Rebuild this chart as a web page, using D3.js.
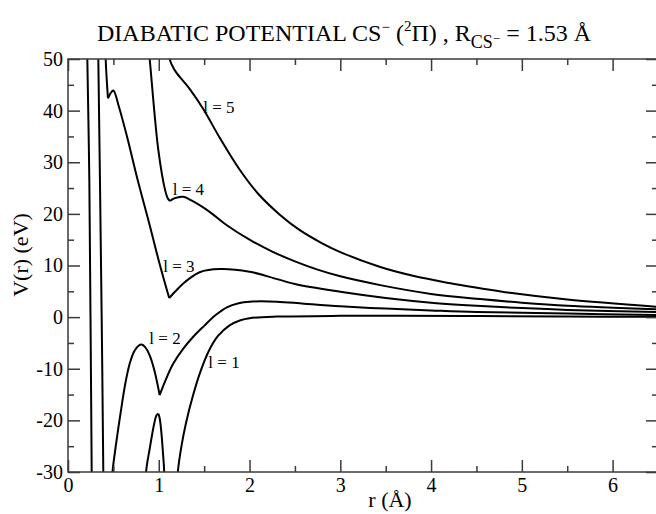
<!DOCTYPE html>
<html>
<head>
<meta charset="utf-8">
<script src="https://cdn.jsdelivr.net/npm/d3@7"></script>
<style>
  body { margin: 0; background: #fff; }
  text { font-family: "Liberation Serif", "Times New Roman", serif; fill: #000; }
</style>
</head>
<body>
<div id="chart"></div>
<script>
// axis setup
const xDomain = [0, 6.5];
const yDomain = [-30, 50];
const xTicks = [0, 1, 2, 3, 4, 5, 6];
const xMinorTicks = [0.5, 1.5, 2.5, 3.5, 4.5, 5.5, 6.5];
const yTicks = [-30, -20, -10, 0, 10, 20, 30, 40, 50];
const yMinorTicks = [-25, -15, -5, 5, 15, 25, 35, 45];

// potential curves, [r (Å), V (eV)]; each curve split into segments at cusps
const curveL1 = [
  [[0.205, 60], [0.213, 50], [0.235, 26.6], [0.248, 0], [0.261, -30], [0.266, -40]],
  [[0.845, -40], [0.86, -30], [0.90, -25.5], [0.95, -20.6], [0.975, -19.0], [0.995, -18.7]],
  [[0.995, -18.7], [1.01, -19.6], [1.03, -22.6], [1.045, -26], [1.06, -30], [1.07, -40]],
  [[1.195, -36], [1.21, -30], [1.25, -25], [1.30, -20.5], [1.38, -15.0], [1.46, -10.5], [1.55, -6.6],
   [1.65, -3.7], [1.78, -1.6], [1.9, -0.6], [2.0, -0.2], [2.3, 0.1], [3.0, 0.25], [3.66, 0.25],
   [4.54, 0.2], [5.5, 0.1], [6.5, 0.05]]
];
const curveL2 = [
  [[0.328, 60], [0.334, 50], [0.352, 26.6], [0.371, 0], [0.389, -30], [0.393, -40]],
  [[0.465, -36], [0.49, -30], [0.53, -24.5], [0.58, -18.5], [0.63, -13], [0.68, -9], [0.73, -6.6],
   [0.78, -5.5], [0.81, -5.3], [0.85, -5.8], [0.9, -7.4], [0.95, -10.2], [1.01, -15.1]],
  [[1.01, -15.1], [1.08, -12.0], [1.16, -9.0], [1.27, -6.1], [1.38, -3.8], [1.5, -1.7], [1.62, 0.3],
   [1.75, 1.9], [1.88, 2.7], [2.0, 3.0], [2.3, 3.0], [2.6, 2.6], [3.0, 2.1], [3.5, 1.65],
   [4.0, 1.3], [4.5, 1.0], [5.5, 0.7], [6.5, 0.4]]
];
const curveL3 = [
  [[0.405, 60], [0.415, 50], [0.44, 42.4]],
  [[0.44, 42.4], [0.47, 43.4], [0.50, 43.9], [0.56, 40.8], [0.65, 35.0], [0.77, 26.4],
   [0.90, 17.8], [1.005, 10.6], [1.115, 3.7]],
  [[1.115, 3.7], [1.2, 5.3], [1.27, 6.5], [1.34, 7.5], [1.45, 8.7], [1.67, 9.3], [2.0, 8.8],
   [2.2, 7.9], [2.5, 6.4], [3.0, 4.9], [3.5, 3.7], [4.0, 2.8], [4.5, 2.2], [5.0, 1.75],
   [5.5, 1.4], [6.5, 1.0]]
];
const curveL4 = [
  [[0.846, 60], [0.90, 50], [0.995, 32.4], [1.07, 24.6], [1.10, 23.0], [1.125, 22.5]],
  [[1.125, 22.5], [1.17, 23.0], [1.27, 23.3], [1.36, 22.6], [1.56, 20.4], [1.75, 17.8], [2.0, 15.0],
   [2.25, 12.7], [2.5, 10.8], [2.75, 9.2], [3.0, 7.9], [3.44, 6.2], [4.0, 4.5], [4.54, 3.5],
   [5.0, 2.8], [5.5, 2.2], [6.5, 1.5]]
];
const curveL5 = [
  [[1.115, 52], [1.12, 50], [1.16, 48.3], [1.2, 47.2], [1.34, 44.2], [1.49, 40.3], [1.67, 34.8],
   [1.89, 28.6], [2.1, 23.8], [2.33, 19.9], [2.55, 16.9], [2.8, 14.3], [3.0, 12.6], [3.44, 9.7],
   [3.8, 8.0], [4.2, 6.6], [4.54, 5.6], [4.87, 4.7], [5.5, 3.4], [6.5, 2.0]]
];
const curves = [curveL1, curveL2, curveL3, curveL4, curveL5];

// curve labels (anchor = left end of the baseline, in data units)
const labelNames = ['l = 1', 'l = 2', 'l = 3', 'l = 4', 'l = 5'];
const labelR = [1.546, 0.896, 1.05, 1.153, 1.49];
const labelV = [-9.9, -5.2, 8.7, 23.6, 39.5];

const width = 656, height = 514;
const margin = { top: 59, right: -2, bottom: 42, left: 68 };

const svg = d3.select('#chart').append('svg')
  .attr('width', width)
  .attr('height', height);

const x = d3.scaleLinear(xDomain, [margin.left, width - margin.right]);
const y = d3.scaleLinear(yDomain, [height - margin.bottom, margin.top]);

svg.append('clipPath').attr('id', 'plotclip')
  .append('rect')
  .attr('x', x(xDomain[0])).attr('y', y(yDomain[1]))
  .attr('width', x(xDomain[1]) - x(xDomain[0]))
  .attr('height', y(yDomain[0]) - y(yDomain[1]));

// curves
const line = d3.line()
  .x(d => x(d[0]))
  .y(d => y(d[1]))
  .curve(d3.curveCatmullRom.alpha(0.5));

const plot = svg.append('g').attr('clip-path', 'url(#plotclip)');
curves.forEach(segs => {
  plot.selectAll(null)
    .data(segs)
    .join('path')
    .attr('d', line)
    .attr('fill', 'none')
    .attr('stroke', '#000')
    .attr('stroke-width', 2)
    .attr('stroke-linejoin', 'round');
});

// frame
const frameColor = '#3a3a3a';
svg.append('rect')
  .attr('x', x(xDomain[0])).attr('y', y(yDomain[1]))
  .attr('width', x(xDomain[1]) - x(xDomain[0]))
  .attr('height', y(yDomain[0]) - y(yDomain[1]))
  .attr('fill', 'none')
  .attr('stroke', frameColor)
  .attr('stroke-width', 1.5);

// axes, ticks pointing inwards on all four sides
function styleAxis(g) {
  g.select('.domain').remove();
  g.selectAll('.tick line').attr('stroke', frameColor).attr('stroke-width', 1.5);
  g.selectAll('.tick text')
    .style('font-family', '"Liberation Serif", "Times New Roman", serif')
    .style('font-size', '20px')
    .attr('fill', '#000');
}
const plainFormat = d => String(d);

svg.append('g')
  .attr('transform', `translate(0, ${y(yDomain[0])})`)
  .call(d3.axisBottom(x).tickValues(xTicks).tickSize(-12).tickPadding(6).tickFormat(plainFormat))
  .call(styleAxis);
svg.append('g')
  .attr('transform', `translate(0, ${y(yDomain[0])})`)
  .call(d3.axisBottom(x).tickValues(xMinorTicks).tickSize(-6).tickFormat(''))
  .call(styleAxis);
svg.append('g')
  .attr('transform', `translate(0, ${y(yDomain[1])})`)
  .call(d3.axisTop(x).tickValues(xTicks).tickSize(-12).tickFormat(''))
  .call(styleAxis);
svg.append('g')
  .attr('transform', `translate(0, ${y(yDomain[1])})`)
  .call(d3.axisTop(x).tickValues(xMinorTicks).tickSize(-6).tickFormat(''))
  .call(styleAxis);

svg.append('g')
  .attr('transform', `translate(${x(xDomain[0])}, 0)`)
  .call(d3.axisLeft(y).tickValues(yTicks).tickSize(-12).tickPadding(5).tickFormat(plainFormat))
  .call(styleAxis);
svg.append('g')
  .attr('transform', `translate(${x(xDomain[0])}, 0)`)
  .call(d3.axisLeft(y).tickValues(yMinorTicks).tickSize(-6).tickFormat(''))
  .call(styleAxis);
svg.append('g')
  .attr('transform', `translate(${x(xDomain[1])}, 0)`)
  .call(d3.axisRight(y).tickValues(yTicks).tickSize(-12).tickFormat(''))
  .call(styleAxis);
svg.append('g')
  .attr('transform', `translate(${x(xDomain[1])}, 0)`)
  .call(d3.axisRight(y).tickValues(yMinorTicks).tickSize(-6).tickFormat(''))
  .call(styleAxis);

// curve labels
svg.selectAll('text.curve-label')
  .data(labelNames)
  .join('text')
  .classed('curve-label', true)
  .attr('x', (d, i) => x(labelR[i]))
  .attr('y', (d, i) => y(labelV[i]))
  .style('font-size', '17px')
  .text(d => d);

// axis titles
svg.append('text')
  .attr('x', 390).attr('y', 507)
  .attr('text-anchor', 'middle')
  .style('font-size', '22px')
  .text('r (Å)');

svg.append('text')
  .attr('transform', 'translate(28, 255) rotate(-90)')
  .attr('text-anchor', 'middle')
  .style('font-size', '22px')
  .text('V(r) (eV)');

// chart title with super/subscripts
const title = svg.append('text')
  .attr('x', 97).attr('y', 41)
  .style('font-size', '24px');
title.append('tspan').text('DIABATIC POTENTIAL CS');
title.append('tspan').attr('dy', -9).style('font-size', '15px').text('−');
title.append('tspan').attr('dy', 9).text(' (');
title.append('tspan').attr('dy', -10).style('font-size', '15px').text('2');
title.append('tspan').attr('dy', 10).text('Π) , R');
title.append('tspan').attr('dy', 7).style('font-size', '18px').text('CS');
title.append('tspan').attr('dy', -5).style('font-size', '13px').text('−');
title.append('tspan').attr('dy', -2).text(' = 1.53 Å');
</script>
</body>
</html>
